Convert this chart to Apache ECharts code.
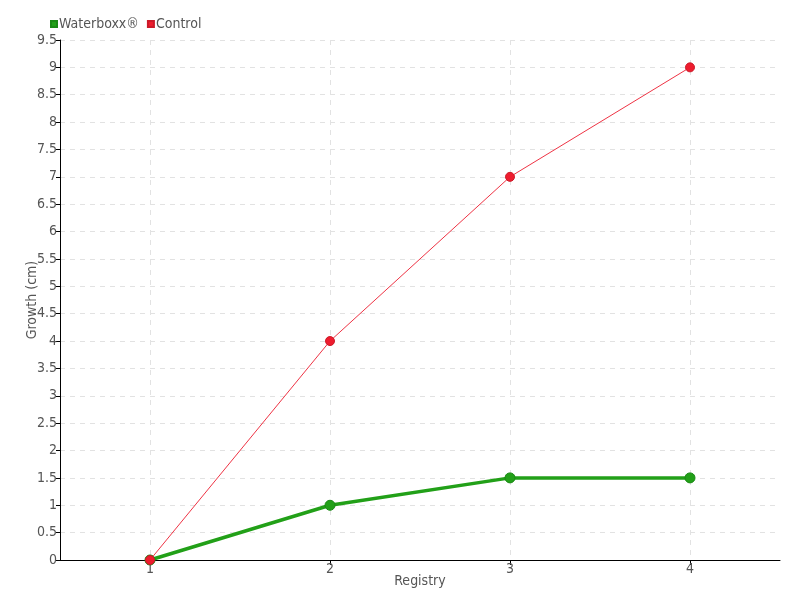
<!DOCTYPE html>
<html><head><meta charset="utf-8">
<script src="https://cdn.jsdelivr.net/npm/echarts@6/dist/echarts.min.js"></script>
<style>html,body{margin:0;padding:0;background:#fff}#c{width:800px;height:600px}</style>
</head><body><div id="c"></div>
<script>
const categories = ['1', '2', '3', '4'];
const waterboxx = [0, 1, 1.5, 1.5];
const control = [0, 4, 7, 9];
const seriesNames = ['Waterboxx®', 'Control'];

const FONT = '"DejaVu Sans Condensed", "DejaVu Sans", sans-serif';
const chart = echarts.init(document.getElementById('c'), null, {renderer: 'canvas'});
chart.setOption({
  animation: false,
  backgroundColor: '#fff',
  textStyle: {fontFamily: FONT},
  legend: {
    left: 45, top: 12, itemWidth: 6, itemHeight: 6, itemGap: 8,
    icon: 'rect',
    textStyle: {fontFamily: FONT, fontSize: 14, color: '#555', padding: [0, 0, 0, -3]},
    data: seriesNames
  },
  grid: {left: 60, right: 20, top: 40, bottom: 40, containLabel: false},
  xAxis: {
    type: 'category', data: categories, boundaryGap: true,
    name: 'Registry', nameLocation: 'middle', nameGap: 14, nameMoveOverlap: false,
    nameTextStyle: {fontFamily: FONT, fontSize: 14, color: '#555'},
    axisLine: {lineStyle: {color: '#000', width: 1}},
    axisTick: {show: true, alignWithLabel: true, length: 5, lineStyle: {color: '#000'}},
    axisLabel: {fontFamily: FONT, fontSize: 14, color: '#555', margin: 2},
    splitLine: {show: true, alignWithLabel: true, lineStyle: {color: '#e2e2e2', type: [5, 5]}}
  },
  yAxis: {
    type: 'value', min: 0, max: 9.5, interval: 0.5,
    name: 'Growth (cm)', nameLocation: 'middle', nameGap: 21, nameMoveOverlap: false,
    nameTextStyle: {fontFamily: FONT, fontSize: 14, color: '#555'},
    axisLine: {show: true, lineStyle: {color: '#000', width: 1}},
    axisTick: {show: true, length: 4, lineStyle: {color: '#000'}},
    axisLabel: {fontFamily: FONT, fontSize: 14, color: '#555', margin: 3},
    splitLine: {show: true, lineStyle: {color: '#e2e2e2', type: [5, 5]}}
  },
  series: [
    {
      name: seriesNames[0], type: 'line', data: waterboxx, z: 2,
      color: '#22a018',
      lineStyle: {width: 3.5, color: '#22a018'},
      symbol: 'circle', symbolSize: 10,
      itemStyle: {color: '#22a018', borderColor: '#1a8a14', borderWidth: 1}
    },
    {
      name: seriesNames[1], type: 'line', data: control, z: 3,
      color: '#ee1c2e',
      lineStyle: {width: 1, color: '#ee3344'},
      symbol: 'circle', symbolSize: 9,
      itemStyle: {color: '#ee1c2e', borderColor: '#cc1a28', borderWidth: 1}
    }
  ]
});
</script></body></html>
